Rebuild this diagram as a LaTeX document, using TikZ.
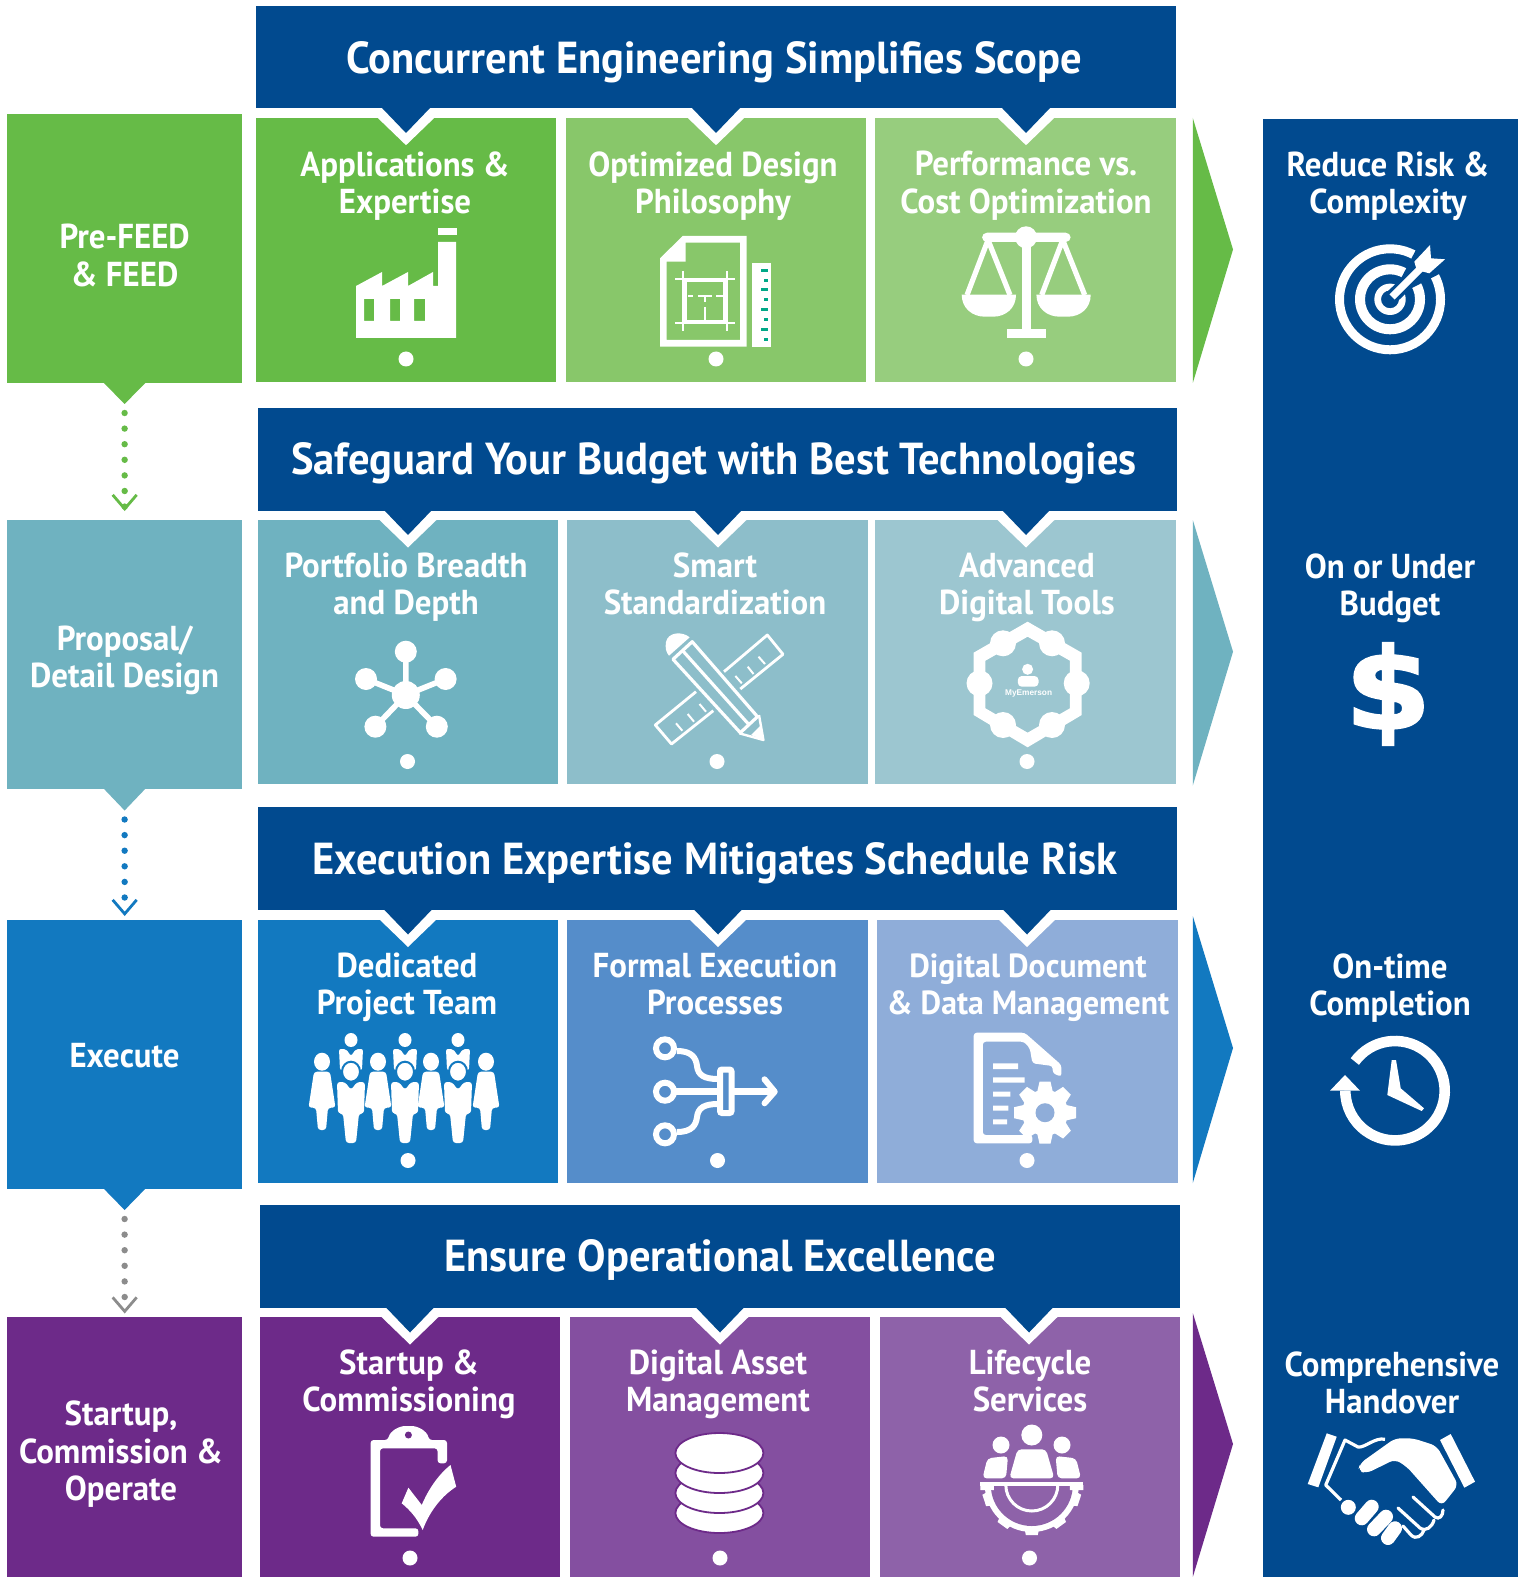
\documentclass[tikz,border=0pt]{standalone}
\usepackage{fontspec}
\usetikzlibrary{arrows.meta}
\newfontfamily\tf{PT Sans}[FakeStretch=0.95]
\newfontfamily\af{Liberation Sans}
\newfontfamily\df{DejaVu Sans}[BoldFeatures={FakeBold=2.5,FakeStretch=1.1}]
\definecolor{hblue}{HTML}{014A8F}
\definecolor{ga}{HTML}{66BB47}\definecolor{gb}{HTML}{88C76A}\definecolor{gc}{HTML}{97CD7E}
\definecolor{ta}{HTML}{6FB2C0}\definecolor{tb}{HTML}{8DBECA}\definecolor{tc}{HTML}{9CC6D0}
\definecolor{ba}{HTML}{1279C0}\definecolor{bb}{HTML}{558DCA}\definecolor{bc}{HTML}{8FADD9}
\definecolor{pa}{HTML}{6D2A89}\definecolor{pb}{HTML}{844FA0}\definecolor{pc}{HTML}{8E62A9}
\definecolor{rulegreen}{HTML}{00A887}
\definecolor{dotgrey}{HTML}{8C8C8C}
\newcommand{\uu}{0.5pt}
\newcommand{\lineprop}{\rule[-0.2\baselineskip]{0pt}{\baselineskip}}
\tikzset{
  x=0.5pt,y=-0.5pt,
  plate/.style={rectangle,draw=none,inner sep=0pt,outer sep=0pt},
  hdrtext/.style={text=white,inner sep=0pt,font=\tf\bfseries\fontsize{22.4}{26}\selectfont,execute at begin node=\lineprop},
  cardtext/.style={text=white,inner sep=0pt,align=center,yshift=-1.75pt,font=\tf\bfseries\fontsize{17.3}{18.6}\selectfont,execute at begin node=\lineprop,execute at end node=\lineprop},
  dotline/.style={line width=3.2pt,line cap=round,dash pattern=on 0pt off 7.8pt,shorten <=4.5pt},
}
% name x1 x2 y1 y2 colour
\newcommand{\Plate}[6]{\node[plate,fill=#6,minimum width={(#3-#2)*\uu},minimum height={(#5-#4)*\uu}] (#1) at ({(#2+#3)/2},{(#4+#5)/2}) {};}
% name x1 x2 y1 y2 colour notchx
\newcommand{\Card}[7]{\Plate{#1}{#2}{#3}{#4}{#5}{#6}
  \fill[white] ({#7-28.5},#4) -- (#7,{#4+27.5}) -- ({#7+28.5},#4) -- cycle;}
\newcommand{\Dot}[2]{\fill[white] (#1,#2) circle (7.5);}
\newcommand{\Notch}[2]{\fill[hblue] ({#1-24},#2) -- (#1,{#2+25}) -- ({#1+24},#2) -- cycle;}
\newcommand{\Point}[3]{\fill[#3] ({124.6-21},#1) -- (124.6,#2) -- ({124.6+21},#1) -- cycle;}
\newcommand{\Woman}[1]{\fill[white] (#1,1061.7) ellipse (8 and 9);
  \fill[white,rounded corners=1.5] ({#1-8},1071.7) -- ({#1+8},1071.7) -- ({#1+13.5},1107.7) -- ({#1+6},1107.7) -- ({#1+4},1130) -- ({#1-4},1130) -- ({#1-6},1107.7) -- ({#1-13.5},1107.7) -- cycle;}
\newcommand{\Back}[1]{\fill[white] (#1,1040) ellipse (6.5 and 7);
  \fill[white,rounded corners=1] ({#1-12},1049) -- ({#1-5},1049) -- (#1,1056) -- ({#1+5},1049) -- ({#1+12},1049) -- ({#1+11},1070) -- ({#1-11},1070) -- cycle;}
\newcommand{\Man}[1]{\filldraw[fill=white,draw=ba,line width=1pt] (#1,1071.7) ellipse (9 and 10);
  \fill[white,rounded corners=1.5] ({#1-14},1082) -- ({#1-6},1082) -- (#1,1090) -- ({#1+6},1082) -- ({#1+14},1082) -- ({#1+13},1113.5) -- ({#1+8},1113.5) -- ({#1+5},1143) -- ({#1-5},1143) -- ({#1-8},1113.5) -- ({#1-13},1113.5) -- cycle;}
\begin{document}
\begin{tikzpicture}
\useasboundingbox (0,0) rectangle (1524,1577);
\fill[white] (0,0) rectangle (1524,1577);
% right panel
\Plate{panel}{1263}{1518}{118.7}{1577}{hblue}
% left boxes
\Plate{L1}{7}{242.4}{114}{382.7}{ga}\Point{382.7}{404}{ga}
\Plate{L2}{7}{242.4}{520}{788.5}{ta}\Point{788.5}{810.5}{ta}
\Plate{L3}{7}{242.4}{920}{1188.5}{ba}\Point{1188.5}{1210}{ba}
\Plate{L4}{7}{242.4}{1316.5}{1577}{pa}
\coordinate (t1) at (124.6,404);\coordinate (t2) at (124.6,810.5);\coordinate (t3) at (124.6,1210);
% connectors
\draw[dotline,draw=ga,shorten >=4.5pt,-{Straight Barb[line width=1.4pt,length=7pt,width=12pt]}] (t1) -- (L2.north);
\draw[dotline,draw=ba,shorten >=2pt,-{Straight Barb[line width=1.4pt,length=7pt,width=12pt]}] (t2) -- (L3.north);
\draw[dotline,draw=dotgrey,shorten >=1.5pt,-{Straight Barb[line width=1.4pt,length=7pt,width=12pt]}] (t3) -- (L4.north);
% cards
\Card{c11}{256}{556.4}{117.7}{381.7}{ga}{406}
\Card{c12}{565.5}{866}{117.7}{381.7}{gb}{716}
\Card{c13}{875}{1176}{117.7}{381.7}{gc}{1026}
\Card{c21}{257.5}{558}{520}{783.5}{ta}{408}
\Card{c22}{567}{868}{520}{783.5}{tb}{718}
\Card{c23}{874.5}{1176}{520}{783.5}{tc}{1026}
\Card{c31}{257.5}{558}{919.5}{1182.7}{ba}{408}
\Card{c32}{567}{868}{919.5}{1182.7}{bb}{718}
\Card{c33}{877}{1177.5}{919.5}{1182.7}{bc}{1027}
\Card{c41}{259.5}{560}{1317}{1577}{pa}{410}
\Card{c42}{570}{870}{1317}{1577}{pb}{720}
\Card{c43}{879.5}{1180}{1317}{1577}{pc}{1029}
% headers
\Plate{h1}{256}{1176}{6}{108.5}{hblue}\Notch{406}{108}\Notch{716}{108}\Notch{1026}{108}
\Plate{h2}{257.5}{1177}{407.7}{510.7}{hblue}\Notch{408}{510}\Notch{718}{510}\Notch{1026}{510}
\Plate{h3}{257.5}{1177}{806.5}{910}{hblue}\Notch{408}{909.5}\Notch{718}{909.5}\Notch{1027}{909.5}
\Plate{h4}{259.5}{1180}{1205}{1308}{hblue}\Notch{410}{1307.5}\Notch{720}{1307.5}\Notch{1029}{1307.5}
\node[hdrtext] (ht1) at (714,57.5) {Concurrent Engineering Simplifies Scope};
\node[hdrtext] (ht2) at (714,458.6) {Safeguard Your Budget with Best Technologies};
\node[hdrtext] (ht3) at (715,859) {Execution Expertise Mitigates Schedule Risk};
\node[hdrtext] (ht4) at (720,1256) {Ensure Operational Excellence};
% right arrows
\fill[ga] (1192.8,118) -- (1233,249.5) -- (1192.8,383) -- cycle;
\fill[ta] (1192.8,520) -- (1233,651.7) -- (1192.8,785.5) -- cycle;
\fill[ba] (1192.8,916) -- (1233,1048) -- (1192.8,1183) -- cycle;
\fill[pa] (1192.8,1313) -- (1233,1444) -- (1192.8,1577) -- cycle;
% left texts
\node[cardtext] (lt1) at (124.6,255.5) {Pre-FEED\\\& FEED};
\node[cardtext] (lt2) at (124.6,657) {Proposal/\\Detail Design};
\node[cardtext] (lt3) at (124.6,1052.5) {Execute};
\node[cardtext] (lt4) at (121,1451) {Startup,\\Commission \&\\Operate};
% card titles
\node[cardtext] (a1) at (405,182.5) {Applications \&\\Expertise};
\node[cardtext] (a2) at (713,182.5) {Optimized Design\\Philosophy};
\node[cardtext] (a3) at (1026,182.5) {Performance vs.\\Cost Optimization};
\node[cardtext] (b1) at (406,584) {Portfolio Breadth\\and Depth};
\node[cardtext] (b2) at (715,584) {Smart\\Standardization};
\node[cardtext] (b3) at (1027,584) {Advanced\\Digital Tools};
\node[cardtext] (d1) at (407,984) {Dedicated\\Project Team};
\node[cardtext] (d2) at (715,984) {Formal Execution\\Processes};
\node[cardtext,font=\tf\bfseries\fontsize{16.7}{18.6}\selectfont] (d3) at (1028,984) {Digital Document\\\& Data Management};
\node[cardtext] (e1) at (409,1381) {Startup \&\\Commissioning};
\node[cardtext] (e2) at (718,1381) {Digital Asset\\Management};
\node[cardtext] (e3) at (1030,1381) {Lifecycle\\Services};
% panel texts
\node[cardtext] (r1) at (1388,183) {Reduce Risk \&\\Complexity};
\node[cardtext] (r2) at (1390,585) {On or Under\\Budget};
\node[cardtext] (r3) at (1390,985) {On-time\\Completion};
\node[cardtext] (r4) at (1392,1383) {Comprehensive\\Handover};
% dots
\Dot{406}{359}\Dot{716}{359}\Dot{1026}{359}
\Dot{407.5}{761.5}\Dot{717}{761.5}\Dot{1027}{761.5}
\Dot{408}{1160.5}\Dot{717.5}{1160.5}\Dot{1027}{1160.5}
\Dot{410}{1558}\Dot{720}{1558}\Dot{1029.5}{1558}
% --- icon: factory
\fill[white,even odd rule] (356,286) -- (382,272) -- (382,286) -- (408,272) -- (408,286) -- (433,272) -- (433,286) -- (438,286) -- (438,242) -- (456,242) -- (456,338) -- (356,338) -- cycle
  (364,299) rectangle (374,321) (390,299) rectangle (400,321) (414,299) rectangle (425,321);
\fill[white] (438,228) rectangle (457,235);
% --- icon: drawing
\fill[white,even odd rule] (660,258.3) -- (682.7,236) -- (746.7,236) -- (746.7,346.7) -- (660,346.7) -- cycle
  (666.7,261.7) -- (685.7,261.7) -- (685.7,242.7) -- (740,242.7) -- (740,340) -- (666.7,340) -- cycle;
\draw[white,line width=2pt] (685,280) rectangle (725,322);
\draw[white,line width=0.6pt] (675,279) -- (735,279) (675,323) -- (735,323) (683,271) -- (683,331) (727,271) -- (727,331);
\draw[white,line width=1.2pt] (688,296) -- (693,296) (698,296) -- (712,296) (716,296) -- (723,296) (705,296) -- (705,302) (705,307) -- (705,320);
\fill[white] (752,263) rectangle (771,347);
\foreach \yy in {270.3,289.3,309.3,329.3}{\fill[rulegreen] (761,{\yy-1.3}) rectangle (768,{\yy+1.3});}
\foreach \yy in {280.3,299.3,319.3,339.3}{\fill[rulegreen] (764,{\yy-1.3}) rectangle (768,{\yy+1.3});}
% --- icon: scales
\fill[white,rounded corners=2.5pt] (982,232.7) rectangle (1070.7,242);
\fill[white] (1026,237.3) circle (11);
\fill[white] (1021.7,240) rectangle (1031,330);
\fill[white] (1006.7,329) rectangle (1046,337.7);
\draw[white,line width=2.6pt] (967,295) -- (988,240) -- (1010,295);
\draw[white,line width=2.6pt] (1041.7,295) -- (1062.7,240) -- (1084.7,295);
\fill[white] (961.7,294.7) -- (1016,294.7) .. controls (1016,308) and (1006,316.7) .. (993,316.7) -- (985,316.7) .. controls (972,316.7) and (961.7,308) .. (961.7,294.7) -- cycle;
\fill[white] (1036.4,294.7) -- (1090.7,294.7) .. controls (1090.7,308) and (1080.7,316.7) .. (1067.7,316.7) -- (1059.7,316.7) .. controls (1046.7,316.7) and (1036.4,308) .. (1036.4,294.7) -- cycle;
% --- icon: target
\fill[white,even odd rule] (1390,299.3) circle (55) (1390,299.3) circle (46)
  (1390,299.3) circle (35) (1390,299.3) circle (25)
  (1390,299.3) circle (15.7) (1390,299.3) circle (9);
\fill[hblue] (1390,299.3) -- (1419,244) -- (1445,271) -- cycle;
\draw[hblue,line width=7pt] (1392,297) -- (1430,260);
\draw[white,line width=3.6pt] (1392,297) -- (1428,261);
\fill[white] (1414.3,261.7) -- (1430,245) -- (1431,258.3) -- (1445,259.3) -- (1429.3,273.3) -- (1416.7,270) -- cycle;
% --- icon: network
\draw[white,line width=2.8pt] (405.8,651.7) -- (405.8,695) (366,679) -- (405.8,695) -- (445.6,679) (375.4,726.7) -- (405.8,695) -- (436.8,726.7);
\fill[white] (405.8,695) circle (14);
\foreach \pp in {(405.8,651.7),(366,679),(445.6,679),(375.4,726.7),(436.8,726.7)}{\fill[white] \pp circle (11);}
% --- icon: pencil and rulers
\fill[white] (689.7,637.3) .. controls (682,631) and (668,632) .. (666,642) .. controls (665,648) and (666,652) .. (669,655.7) -- cycle;
\draw[white,line width=1.6pt,line join=round] (692.2,641.7) -- (673,659.3) -- (740.3,732.7) -- (757.5,716.7) -- cycle;
\draw[white,line width=1.6pt] (682.5,650.5) -- (749,724.7);
\draw[white,line width=1.2pt,line join=round] (759,715) -- (763.4,740) -- (739.3,733.3);
\fill[white] (763.4,740) -- (761,725) -- (751,735) -- cycle;
\draw[white,line width=1.4pt,line join=round] (724,671.7) -- (767.3,635) -- (783,654.3) -- (740.3,689);
\draw[white,line width=1pt] (758.5,656.7) -- (765,664) (747.7,666.7) -- (753.5,674) (735.4,676) -- (741.8,683.3);
\draw[white,line width=1.4pt,line join=round] (696,691.7) -- (655.3,725) -- (671.5,744) -- (713.3,710.7);
\draw[white,line width=1pt] (699.5,704) -- (706,711.7) (687.7,714) -- (694,721.7) (676,723.3) -- (682.3,730.7);
% --- icon: digital hexagon
\fill[white,even odd rule] (1027.6,621.7) -- (1081.7,652.7) -- (1081.7,715) -- (1027.6,747.3) -- (973.6,715) -- (973.6,652.7) -- cycle
  (1027.6,636.7) -- (1069.9,660.7) -- (1069.9,708.3) -- (1027.6,732.7) -- (985.4,708.3) -- (985.4,660.7) -- cycle;
\foreach \pp in {(1003,643.3),(1052,643.3),(979.5,683.3),(1076.7,683.3),(1003,725),(1052,725)}{\fill[white] \pp circle (13);}
\fill[white] (1027.6,669.3) circle (5.5);
\fill[white,rounded corners=2pt] (1017.8,686.7) -- (1017.8,676) -- (1038.5,676) -- (1038.5,686.7) -- cycle;
\node[text=white,font=\af\bfseries\fontsize{4.15}{5}\selectfont,inner sep=0pt] (my) at (1028.6,693.3) {MyEmerson};
% --- icon: people
\Back{351}\Back{405}\Back{458}
\Woman{322}\Woman{378}\Woman{431}\Woman{486}
\Man{351}\Man{405}\Man{458}
% --- icon: flow
\draw[white,line width=3pt] (665,1048.3) circle (9) (665,1091.7) circle (9) (665,1134.3) circle (9);
\draw[white,line width=3pt] (677,1051) .. controls (692,1051) and (696,1058) .. (697,1066) .. controls (698,1075) and (704,1079) .. (718,1079);
\draw[white,line width=3pt] (677,1132) .. controls (692,1132) and (696,1125) .. (697,1117) .. controls (698,1108) and (704,1104) .. (718,1104);
\draw[white,line width=3.3pt] (675,1091.7) -- (718,1091.7);
\draw[white,line width=3pt,rounded corners=1pt] (720,1069.5) rectangle (731.5,1113);
\draw[white,line width=3.3pt] (732,1091.7) -- (772,1091.7);
\draw[white,line width=3pt,line cap=round,line join=round] (764.5,1079.3) -- (774.7,1091.7) -- (764.5,1103.3);
% --- icon: document and gear
\fill[white,rounded corners=1.5pt] (973.7,1032.7) -- (1024.7,1032.7) -- (1061.4,1065) -- (1061.4,1076.7) -- (1052.7,1073.3) -- (1052.7,1066) -- (1032.4,1063.3) -- (1029.8,1048.3) -- (1024,1041.7) -- (982.8,1041.7) -- (982.8,1135) -- (1032.4,1135) -- (1032.4,1143.3) -- (973.7,1143.3) -- cycle;
\fill[white] (993,1063.3) rectangle (1018,1069) (993,1077.3) rectangle (1024.7,1082.7) (993,1091.7) rectangle (1010.4,1096.7) (993,1105.7) rectangle (1008.4,1110.7) (993,1119.3) rectangle (1007,1124.3);
\begin{scope}[shift={(1045,1112.7)}]
\foreach \aa in {0,45,...,315}{\fill[white,rotate=\aa] (-5.5,-31) -- (5.5,-31) -- (8,-20) -- (-8,-20) -- cycle;}
\fill[white] (0,0) circle (23);
\fill[bc] (0,0) circle (9.5);
\end{scope}
% --- icon: clock
\draw[white,line width=5.3pt] (1354.8,1061.5) arc[start angle=-144,end angle=180,radius=49.7];
\fill[white] (1330,1090.7) -- (1360,1090.7) -- (1345,1075) -- cycle;
\fill[white] (1391.7,1060) -- (1396,1060) -- (1400.7,1088.3) -- (1424,1108.3) -- (1421.7,1111) -- (1387.3,1095) -- cycle;
% --- icon: dollar
\node[text=white,font=\df\bfseries\fontsize{56}{60}\selectfont,inner sep=0pt] (dollar) at (1388,694) {\$};
% --- icon: clipboard
\fill[white,rounded corners=1.5pt] (370.6,1440) -- (388,1440) .. controls (390,1431) and (399,1426) .. (408.4,1426) .. controls (418,1426) and (427,1431) .. (429,1440) -- (447,1440) -- (447,1463.3) -- (437.6,1463.3) -- (437.6,1448.3) -- (380,1448.3) -- (380,1528.3) -- (418.4,1528.3) -- (418.4,1536.7) -- (370.6,1536.7) -- cycle;
\fill[pa] (408.4,1435) circle (3.5);
\fill[white] (401.7,1503.3) -- (408.4,1487.7) -- (421.8,1505) .. controls (428,1490) and (438,1475) .. (450.5,1465) -- (456.2,1486.7) .. controls (443,1495) and (430,1510) .. (422.7,1530) .. controls (417,1518) and (410,1510) .. (401.7,1503.3) -- cycle;
% --- icon: database
\foreach \yy in {1513,1493,1473,1453}{\filldraw[fill=white,draw=pa,line width=0.9pt] (719.4,\yy) ellipse (44 and 20);}
% --- icon: team gear
\fill[white] (1031.8,1435) circle (10.5);
\fill[white] (1001,1445) circle (8.5) (1062,1445) circle (8.5);
\fill[white,rounded corners=2pt] (1009.3,1478.3) -- (1017.5,1449.3) -- (1046,1449.3) -- (1054.3,1478.3) -- cycle;
\fill[white,rounded corners=2pt] (982.5,1478.3) -- (987.4,1458.3) -- (1008,1456) -- (1006,1478.3) -- cycle;
\fill[white,rounded corners=2pt] (1081,1478.3) -- (1076,1458.3) -- (1055.6,1456) -- (1057.6,1478.3) -- cycle;
\begin{scope}[shift={(1031.8,1485)}]
\foreach \aa in {0,36,-36,72,-72}{\fill[white,rotate=\aa] (-8,40) -- (-6,50) -- (6,50) -- (8,40) -- cycle;}
\fill[white] (-47,0) arc[start angle=180,end angle=0,radius=47] -- cycle;
\fill[pc] (-41,0) arc[start angle=180,end angle=0,radius=41] -- cycle;
\draw[white,line width=1.5pt] (-26,0) arc[start angle=180,end angle=0,radius=26];
\fill[white] (-51.5,-3.5) rectangle (51.5,0.5);
\fill[white] (-51.5,0) rectangle (-38,5) (38,0) rectangle (51.5,5);
\end{scope}
% --- icon: handshake
\fill[white] (1326.7,1433.3) -- (1336.7,1436.7) -- (1318.3,1487.3) -- (1307.7,1484) -- cycle;
\fill[white] (1450.7,1434) -- (1475,1481.7) -- (1464.3,1487.7) -- (1440,1440) -- cycle;
\fill[white,rounded corners=3pt] (1360,1463.3) -- (1395,1438.3) -- (1413.3,1438.3) -- (1436.7,1446) -- (1458.3,1485) -- (1441.7,1506) -- (1406.7,1466.7) -- (1395,1459.3) -- (1366.7,1473.3) -- (1358,1471) -- cycle;
\draw[white,line width=1.6pt,line join=round] (1385,1439.3) .. controls (1375,1437) and (1365,1448) .. (1358,1447) -- (1345,1440) -- (1325.7,1485) -- (1341,1500);
\fill[white] (1348.3,1507.3) circle (7.5);
\draw[white,line width=7pt,line cap=round] (1371.7,1506.7) -- (1361.7,1518.3) (1386,1516.7) -- (1374,1529.3) (1395,1528.3) -- (1388,1538);
\draw[white,line width=1.6pt,line cap=round] (1413,1497) -- (1435,1517) .. controls (1439,1520) and (1443,1516) .. (1443,1510);
\draw[white,line width=1.6pt,line cap=round] (1398,1508) -- (1420,1528) .. controls (1426,1532) and (1432,1527) .. (1434,1520);
\draw[white,line width=1.6pt,line cap=round] (1403,1526) -- (1411,1535) .. controls (1416,1540) and (1422,1536) .. (1424,1530);
\end{tikzpicture}
\end{document}
